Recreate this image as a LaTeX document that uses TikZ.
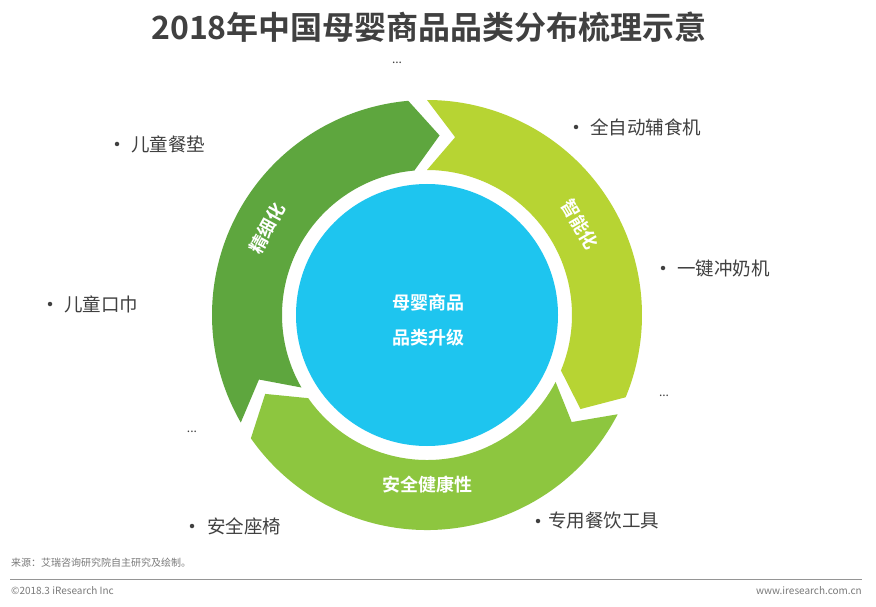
\documentclass[tikz,border=0pt]{standalone}
\usepackage{fontspec}
\setmainfont{Noto Sans CJK SC}[BoldFont={Noto Sans CJK SC Bold}]
\definecolor{dkgreen}{HTML}{5EA63E}
\definecolor{ltgreen}{HTML}{B7D433}
\definecolor{mdgreen}{HTML}{8DC63F}
\definecolor{cblue}{HTML}{1EC5EF}
\definecolor{txtgray}{HTML}{404040}
\definecolor{footgray}{HTML}{7A7A7A}
\newcommand\ringseg[5]{%
  \fill[#1] (#2:215) arc[start angle=#2, end angle=#4, radius=215]
    -- (#5:180) -- (#4:145) arc[start angle=#4, end angle=#2, radius=145]
    -- (#3:180) -- cycle;}
\begin{document}
\begin{tikzpicture}[x=1pt,y=1pt,
  item/.style={anchor=west, font=\fontsize{18.5}{20}\selectfont, text=txtgray, inner sep=0},
  dotmark/.style={circle, fill=txtgray, inner sep=0, minimum size=4.5},
  ellip/.style={font=\fontsize{12}{14}\selectfont, text=txtgray, inner sep=0},
  bandlbl/.style={font=\bfseries\fontsize{18}{20}\selectfont, text=white, inner sep=0},
  ctrlbl/.style={font=\bfseries\fontsize{18}{20}\selectfont, text=white, inner sep=0},
  foot/.style={font=\fontsize{10}{12}\selectfont, text=footgray, inner sep=0}]
\useasboundingbox (0,0) rectangle (876,-607);
\fill[white] (0,0) rectangle (876,-607);
% title
\node[font=\bfseries\fontsize{32}{36}\selectfont, text=txtgray, inner sep=0] (title) at (429,-27) {2018年中国母婴商品品类分布梳理示意};
% ring
\begin{scope}[shift={(427,-315)}]
  \ringseg{dkgreen}{210}{201}{95}{86}
  \ringseg{ltgreen}{90}{81}{-22.5}{-31.5}
  \ringseg{mdgreen}{-27.5}{-36.5}{-145}{-154}
  \fill[cblue] (0,0) circle[radius=131];
  \node[bandlbl, rotate=61.5] (l1) at (151.5:182) {精细化};
  \node[bandlbl, rotate=-59.5] (l2) at (30.5:178) {智能化};
  \node[bandlbl] (l3) at (-89.7:170) {安全健康性};
\end{scope}
\node[ctrlbl] (c1) at (428,-303) {母婴商品};
\node[ctrlbl] (c2) at (428,-338) {品类升级};
% items
\node[dotmark] (d1) at (576,-127) {}; \node[item] (t1) at (590,-127) {全自动辅食机};
\node[dotmark] (d2) at (663,-268) {}; \node[item] (t2) at (677,-268) {一键冲奶机};
\node[ellip] (e1) at (664,-396) {...};
\node[dotmark] (d3) at (538,-521) {}; \node[item] (t3) at (548,-521) {专用餐饮工具};
\node[dotmark] (d4) at (192,-526) {}; \node[item] (t4) at (207,-526) {安全座椅};
\node[ellip] (e2) at (192,-432) {...};
\node[dotmark] (d5) at (50,-304) {}; \node[item] (t5) at (64,-304) {儿童口巾};
\node[dotmark] (d6) at (117,-144) {}; \node[item] (t6) at (131,-144) {儿童餐垫};
\node[ellip] (e3) at (397,-63) {...};
% footer
\node[foot, anchor=west] (src) at (11,-563) {来源：艾瑞咨询研究院自主研究及绘制。};
\draw[footgray!80, line width=0.8] (10,-579) -- (862,-579);
\node[foot, anchor=west] (cp) at (11,-591) {©2018.3 iResearch Inc};
\node[foot, anchor=east] (www) at (862,-591) {www.iresearch.com.cn};
\end{tikzpicture}
\end{document}
